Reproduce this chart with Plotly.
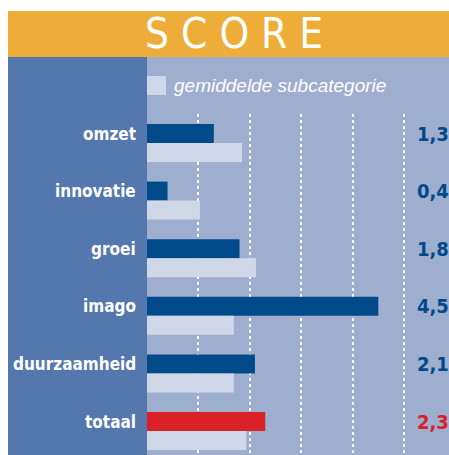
import plotly.graph_objects as go

categories = ["omzet", "innovatie", "groei", "imago", "duurzaamheid", "totaal"]
scores = [1.3, 0.4, 1.8, 4.5, 2.1, 2.3]
subcat_avg = [1.85, 1.03, 2.12, 1.69, 1.69, 1.93]
score_labels = ["1,3", "0,4", "1,8", "4,5", "2,1", "2,3"]
legend_label = "gemiddelde subcategorie"
title_text = "S C O R E"

W, H = 449, 455
ORANGE = "#EEAC38"
PANEL = "#5477AD"
PLOTBG = "#9DAECF"
DARK = "#004A8A"
LIGHT = "#D0D7E9"
RED = "#DA2128"
COND = "DejaVu Sans Condensed, Liberation Sans Narrow, Roboto, sans-serif"

bar_colors = [RED if c == "totaal" else DARK for c in categories]
label_colors = bar_colors

def px(x):
    return x / W

def py(y):
    return 1 - y / H

fig = go.Figure()
fig.add_trace(go.Bar(y=categories, x=scores, orientation="h", width=0.33, offset=-0.33,
                     marker=dict(color=bar_colors, line=dict(width=0)), showlegend=False,
                     hoverinfo="x+y"))
fig.add_trace(go.Bar(y=categories, x=subcat_avg, orientation="h", width=0.33, offset=0,
                     marker=dict(color=LIGHT, line=dict(width=0)), name=legend_label,
                     showlegend=False))

shapes = [
    dict(type="rect", xref="paper", yref="paper", x0=px(8), x1=1, y0=py(57), y1=py(11),
         fillcolor=ORANGE, line=dict(width=0), layer="below"),
    dict(type="rect", xref="paper", yref="paper", x0=px(8), x1=px(147), y0=0, y1=py(57),
         fillcolor=PANEL, line=dict(width=0), layer="below"),
    dict(type="rect", xref="paper", yref="paper", x0=px(147), x1=1, y0=0, y1=py(57),
         fillcolor=PLOTBG, line=dict(width=0), layer="below"),
    dict(type="rect", xref="paper", yref="paper", x0=px(147), x1=px(166), y0=py(95), y1=py(76),
         fillcolor=LIGHT, line=dict(width=0), layer="above"),
]

annotations = [
    dict(text=title_text.replace(" ", "\u00a0"), xref="paper", yref="paper",
         x=px(234), y=py(34), xanchor="center", yanchor="middle", showarrow=False,
         font=dict(family=COND, size=42, color="white", weight=300)),
    dict(text="<i>" + legend_label + "</i>", xref="paper", yref="paper",
         x=px(172), y=py(85.5), xanchor="left", yanchor="middle", showarrow=False,
         font=dict(family="Liberation Sans, Arial, sans-serif", size=19, color="white")),
]
for cat, lab, col in zip(categories, score_labels, label_colors):
    annotations.append(dict(text="<b>" + cat + "</b>", xref="paper", yref="y", x=px(138), y=cat,
                            yshift=9.5, xanchor="right", yanchor="middle", showarrow=False,
                            font=dict(family=COND, size=17, color="white")))
    annotations.append(dict(text="<b>" + lab + "</b>", xref="paper", yref="y", x=1, y=cat,
                            yshift=9.5, xshift=2, xanchor="right", yanchor="middle",
                            showarrow=False, font=dict(family=COND, size=20, color=col)))

unit = 51.4
fig.update_layout(
    width=W, height=H, margin=dict(l=0, r=0, t=0, b=0),
    paper_bgcolor="white", plot_bgcolor="rgba(0,0,0,0)",
    barmode="overlay",
    shapes=shapes, annotations=annotations,
    xaxis=dict(domain=[px(147), 1], range=[0, (W - 147) / unit], tickvals=[1, 2, 3, 4, 5],
               showticklabels=False, showgrid=True, gridcolor="white", gridwidth=1.5,
               griddash="dot", zeroline=False, showline=False, ticks="", fixedrange=True),
    yaxis=dict(domain=[0, py(114)], range=[(455 - 143) / 57.6, -29 / 57.6],
               showticklabels=False, showgrid=False, zeroline=False, showline=False,
               ticks="", fixedrange=True),
    showlegend=False,
)

fig.write_html("out.html", config={"displayModeBar": False},
               post_script="document.body.style.margin='0';document.body.style.overflow='hidden';")
